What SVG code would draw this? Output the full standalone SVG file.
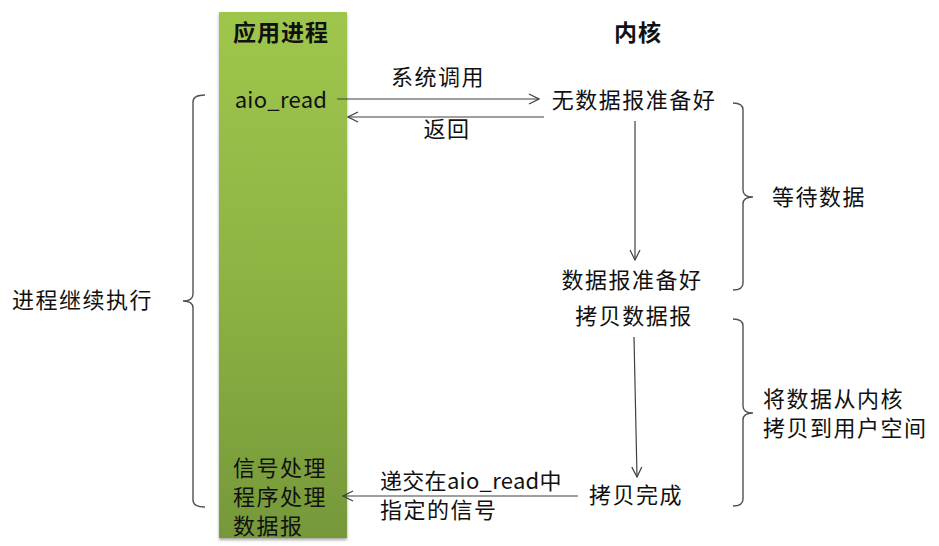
<svg xmlns="http://www.w3.org/2000/svg" width="939" height="546" viewBox="0 0 939 546">
<defs>
<linearGradient id="barGrad" x1="0" y1="0" x2="0" y2="1">
<stop offset="0" stop-color="#9fc64c"/>
<stop offset="0.5" stop-color="#8db443"/>
<stop offset="1" stop-color="#76983a"/>
</linearGradient>
<filter id="shadow" x="-10%" y="-2%" width="120%" height="105%">
<feGaussianBlur in="SourceAlpha" stdDeviation="1.5"/>
<feOffset dx="0" dy="2" result="b"/>
<feComponentTransfer><feFuncA type="linear" slope="0.35"/></feComponentTransfer>
<feMerge><feMergeNode/><feMergeNode in="SourceGraphic"/></feMerge>
</filter>
<marker id="arr" viewBox="0 0 12 12" refX="11" refY="6" markerWidth="12" markerHeight="12" markerUnits="userSpaceOnUse" orient="auto">
<path d="M1,1 L11,6 L1,11" fill="none" stroke="#404040" stroke-width="1.2"/>
</marker>
</defs>
<style>
text{font-family:"Microsoft YaHei","Noto Sans CJK SC","Noto Sans",sans-serif;font-size:22px;fill:#111;letter-spacing:1.5px}
.t{font-weight:bold;font-size:23px;letter-spacing:1px}
.lat{letter-spacing:0.3px}
.c{text-anchor:middle}
.conn{fill:none;stroke:#404040;stroke-width:1.2}
.brace{fill:none;stroke:#505050;stroke-width:1.4}
</style>
<rect width="939" height="546" fill="#ffffff"/>

<g id="app-process">
<rect x="219" y="12" width="128" height="526" fill="url(#barGrad)" filter="url(#shadow)"/>
<text class="t c" x="281" y="41">应用进程</text>
</g>
<g id="kernel-title"><text class="t c" x="638" y="41">内核</text></g>

<g id="aio-read"><text class="c lat" x="281" y="108">aio_read</text></g>
<g id="no-data"><text class="c" x="634" y="108">无数据报准备好</text></g>
<g id="data-ready"><text class="c" x="632" y="288">数据报准备好</text></g>
<g id="copy-data"><text class="c" x="634" y="324">拷贝数据报</text></g>
<g id="copy-done"><text class="c" x="636" y="503">拷贝完成</text></g>
<g id="signal-handler">
<text x="233" y="476"><tspan x="233" y="476">信号处理</tspan><tspan x="233" y="505">程序处理</tspan><tspan x="233" y="534">数据报</tspan></text>
</g>

<g id="connectors">
<line class="conn" x1="337" y1="99" x2="539" y2="99" marker-end="url(#arr)"/>
<line class="conn" x1="544" y1="117" x2="348" y2="117" marker-end="url(#arr)"/>
<line class="conn" x1="635" y1="121" x2="635" y2="260" marker-end="url(#arr)"/>
<line class="conn" x1="634" y1="337" x2="637" y2="477" marker-end="url(#arr)"/>
<line class="conn" x1="578" y1="496" x2="343" y2="496" marker-end="url(#arr)"/>
<text class="c" x="438" y="85">系统调用</text>
<text class="c" x="447" y="137">返回</text>
<text x="380" y="489"><tspan class="lat" x="380" y="489">递交在aio_read中</tspan><tspan x="380" y="518">指定的信号</tspan></text>
</g>

<g id="brace-wait">
<path class="brace" d="M733,103 Q743,103 743,110 L743,190 Q743,197 753,197 Q743,197 743,204 L743,283 Q743,290 733,290"/>
<text x="772" y="205">等待数据</text>
</g>
<g id="brace-copy">
<path class="brace" d="M733,319 Q743,319 743,326 L743,406 Q743,413 753,413 Q743,413 743,420 L743,499 Q743,506 733,506"/>
<text x="763" y="407"><tspan x="763" y="407">将数据从内核</tspan><tspan x="763" y="436">拷贝到用户空间</tspan></text>
</g>
<g id="brace-continue">
<path class="brace" d="M205,95 Q193,95 193,102 L193,294 Q193,301 183,301 Q193,301 193,308 L193,500 Q193,507 205,507"/>
<text x="12" y="308">进程继续执行</text>
</g>
</svg>
